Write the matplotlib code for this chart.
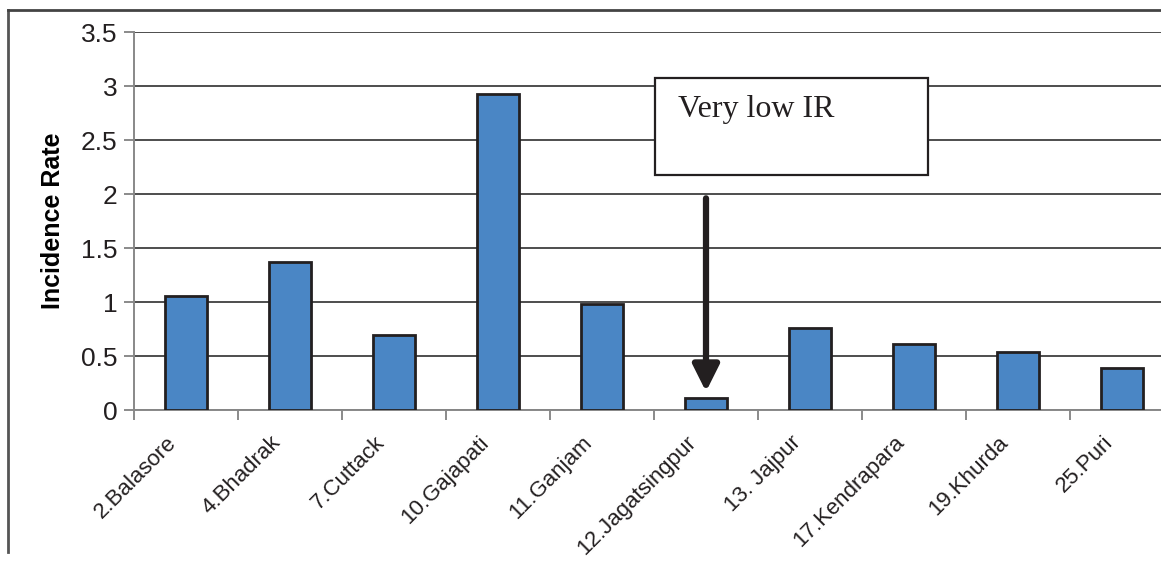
import matplotlib.pyplot as plt
from matplotlib.lines import Line2D
from matplotlib.patches import Rectangle
from matplotlib.transforms import ScaledTranslation

districts = ['2.Balasore', '4.Bhadrak', '7.Cuttack', '10.Gajapati', '11.Ganjam',
             '12.Jagatsingpur', '13. Jajpur', '17.Kendrapara', '19.Khurda', '25.Puri']
incidence = [1.06, 1.37, 0.69, 2.93, 0.98, 0.11, 0.76, 0.61, 0.54, 0.39]
yticks = [0, 0.5, 1, 1.5, 2, 2.5, 3, 3.5]

plt.rcParams['font.family'] = ['Liberation Sans', 'DejaVu Sans']

fig = plt.figure(figsize=(11.61, 5.61), dpi=100)
ax = fig.add_axes([134 / 1161, 151 / 561, 1040 / 1161, 378 / 561])

x = list(range(len(districts)))
ax.bar(x, incidence, width=0.41, color='#4a86c5', edgecolor='#231f20',
       linewidth=2, zorder=3)

ax.set_xlim(-0.5, len(districts) - 0.5)
ax.set_ylim(0, 3.5)
ax.set_yticks(yticks)
ax.set_yticklabels([f'{v:g}' for v in yticks], fontsize=19, color='#231f20')
ax.yaxis.grid(True, color='#4d4d4d', linewidth=1.4, zorder=0)
ax.tick_params(axis='y', length=7, width=1.2, color='#777777', pad=5)

# category labels at bar centres, tick marks at the boundaries
ax.set_xticks(x)
ax.set_xticklabels(districts, rotation=45, ha='right', rotation_mode='anchor',
                   fontsize=16, color='#231f20')
ax.tick_params(axis='x', length=0, pad=16)
shift = ScaledTranslation(-20 / 100, 0, fig.dpi_scale_trans)
for lbl in ax.get_xticklabels():
    lbl.set_transform(lbl.get_transform() + shift)
ax.set_xticks([i - 0.5 for i in range(len(districts) + 1)], minor=True)
ax.tick_params(axis='x', which='minor', length=7, width=1.2, color='#777777')

for side in ['top', 'right']:
    ax.spines[side].set_visible(False)
ax.spines['left'].set_color('#888888')
ax.spines['left'].set_linewidth(1.4)
ax.spines['bottom'].set_color('#888888')
ax.spines['bottom'].set_linewidth(1.4)

ax.set_ylabel('Incidence Rate', fontsize=18, fontweight='bold', labelpad=11)

# callout box with arrow pointing at the lowest bar
fig.patches.append(Rectangle((655 / 1161, 1 - 175 / 561), 273 / 1161, 97 / 561,
                             transform=fig.transFigure, facecolor='white',
                             edgecolor='#231f20', linewidth=1.6, zorder=5))
fig.text(678 / 1161, 1 - 110 / 561, 'Very low IR', family='Liberation Serif',
         fontsize=23, color='#231f20', va='center', ha='left', zorder=6)
ax.annotate('', xy=(5, 0.17), xytext=(5, 1.96),
            arrowprops=dict(arrowstyle='-|>,head_length=1.6,head_width=0.8',
                            color='#231f20', linewidth=4.5, shrinkA=0, shrinkB=0),
            zorder=6)

# outer frame
fig.add_artist(Line2D([8 / 1161, 8 / 1161], [1 - 552 / 561, 1 - 10 / 561],
                      color='#555555', linewidth=2))
fig.add_artist(Line2D([8 / 1161, 1], [1 - 10 / 561, 1 - 10 / 561],
                      color='#444444', linewidth=2))

fig.savefig('out.png', dpi=100)
